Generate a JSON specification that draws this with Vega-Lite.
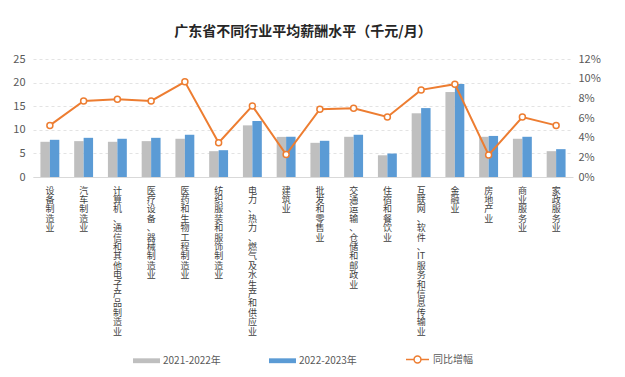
{
  "$schema": "https://vega.github.io/schema/vega-lite/v6.json",
  "width": 540,
  "height": 118,
  "autosize": {"type": "none"},
  "padding": {"left": 33, "top": 59, "right": 52, "bottom": 200},
  "background": "white",
  "config": {
    "view": {"stroke": null},
    "font": "Noto Sans CJK SC",
    "axis": {"labelFont": "Noto Sans CJK SC", "labelColor": "#595959"},
    "legend": {"labelFont": "Noto Sans CJK SC", "labelColor": "#595959", "labelFontSize": 10}
  },
  "title": {
    "text": "广东省不同行业平均薪酬水平（千元/月）",
    "fontSize": 14,
    "fontWeight": "bold",
    "color": "#262626",
    "anchor": "middle",
    "offset": 14
  },
  "data": {
    "values": [
      {"industry": "设备制造业", "2021-2022年": 7.46, "2022-2023年": 7.88, "growth": 0.0525},
      {"industry": "汽车制造业", "2021-2022年": 7.6, "2022-2023年": 8.3, "growth": 0.0774},
      {"industry": "计算机、通信和其他电子产品制造业", "2021-2022年": 7.46, "2022-2023年": 8.1, "growth": 0.079},
      {"industry": "医疗设备、器械制造业", "2021-2022年": 7.6, "2022-2023年": 8.3, "growth": 0.0774},
      {"industry": "医药和生物工程制造业", "2021-2022年": 8.1, "2022-2023年": 8.95, "growth": 0.0968},
      {"industry": "纺织服装和服饰制造业", "2021-2022年": 5.47, "2022-2023年": 5.68, "growth": 0.0348},
      {"industry": "电力、热力、燃气及水生产和供应业", "2021-2022年": 10.94, "2022-2023年": 11.86, "growth": 0.0723},
      {"industry": "建筑业", "2021-2022年": 8.5, "2022-2023年": 8.55, "growth": 0.0228},
      {"industry": "批发和零售业", "2021-2022年": 7.24, "2022-2023年": 7.67, "growth": 0.0689},
      {"industry": "交通运输、仓储和邮政业", "2021-2022年": 8.52, "2022-2023年": 8.95, "growth": 0.0699},
      {"industry": "住宿和餐饮业", "2021-2022年": 4.6, "2022-2023年": 4.97, "growth": 0.061},
      {"industry": "互联网、软件、IT服务和信息传输业", "2021-2022年": 13.5, "2022-2023年": 14.6, "growth": 0.0886},
      {"industry": "金融业", "2021-2022年": 18.0, "2022-2023年": 19.7, "growth": 0.0944},
      {"industry": "房地产业", "2021-2022年": 8.52, "2022-2023年": 8.7, "growth": 0.0225},
      {"industry": "商业服务业", "2021-2022年": 8.1, "2022-2023年": 8.52, "growth": 0.061},
      {"industry": "家政服务业", "2021-2022年": 5.47, "2022-2023年": 5.9, "growth": 0.0525}
    ]
  },
  "encoding": {
    "x": {
      "field": "industry",
      "type": "nominal",
      "sort": null,
      "scale": {"paddingInner": 0.44, "paddingOuter": 0.22},
      "axis": {
        "title": null,
        "labelAngle": 0,
        "labelExpr": "split(datum.label, regexp('(?!^)(?=[^T])'))",
        "labelFontSize": 9,
        "labelLineHeight": 9.4,
        "labelBaseline": "top",
        "labelPadding": 9,
        "labelOverlap": false,
        "labelColor": "#404040",
        "ticks": false,
        "domainColor": "#d9d9d9",
        "domainWidth": 1
      }
    }
  },
  "layer": [
    {
      "transform": [{"fold": ["2021-2022年", "2022-2023年"], "as": ["series", "value"]}],
      "mark": {"type": "bar"},
      "encoding": {
        "xOffset": {"field": "series", "type": "nominal", "scale": {"paddingInner": 0, "paddingOuter": 0}},
        "y": {
          "field": "value",
          "type": "quantitative",
          "scale": {"domain": [0, 25]},
          "axis": {
            "title": null,
            "values": [0, 5, 10, 15, 20, 25],
            "labelFontSize": 11,
            "labelPadding": 8,
            "domain": false,
            "ticks": false,
            "grid": true,
            "gridDash": [3, 3],
            "gridColor": "#e3e3e3"
          }
        },
        "color": {
          "field": "series",
          "type": "nominal",
          "scale": {"domain": ["2021-2022年", "2022-2023年"], "range": ["#BFBFBF", "#5B9BD5"]},
          "legend": {
            "title": null,
            "orient": "none",
            "direction": "horizontal",
            "legendX": 100,
            "legendY": 288,
            "symbolType": "M-1,-0.18H1V0.18H-1Z",
            "symbolSize": 729,
            "symbolStrokeWidth": 0,
            "labelOffset": 3,
            "columnPadding": 48
          }
        }
      }
    },
    {
      "mark": {"type": "line", "strokeWidth": 2},
      "encoding": {
        "y": {
          "field": "growth",
          "type": "quantitative",
          "scale": {"domain": [0, 0.12]},
          "axis": {
            "title": null,
            "orient": "right",
            "format": ".0%",
            "values": [0, 0.02, 0.04, 0.06, 0.08, 0.1, 0.12],
            "labelFontSize": 11,
            "labelPadding": 5,
            "domain": false,
            "ticks": false,
            "grid": false
          }
        },
        "stroke": {
          "datum": "同比增幅",
          "type": "nominal",
          "scale": {"range": ["#ED7D31"]},
          "legend": {
            "title": null,
            "orient": "none",
            "legendX": 372,
            "legendY": 288,
            "symbolType": "M-1,0H-0.3M0.3,0H1M-0.3,0A0.3,0.3,0,1,1,0.3,0A0.3,0.3,0,1,1,-0.3,0Z",
            "symbolSize": 529,
            "symbolStrokeWidth": 1.5,
            "symbolFillColor": "white",
            "labelOffset": 3
          }
        }
      }
    },
    {
      "mark": {"type": "point", "shape": "circle", "filled": true, "fill": "white", "stroke": "#ED7D31", "strokeWidth": 1.5, "size": 36, "opacity": 1},
      "encoding": {
        "y": {"field": "growth", "type": "quantitative", "scale": {"domain": [0, 0.12]}, "axis": null}
      }
    }
  ],
  "resolve": {"scale": {"y": "independent"}}
}
